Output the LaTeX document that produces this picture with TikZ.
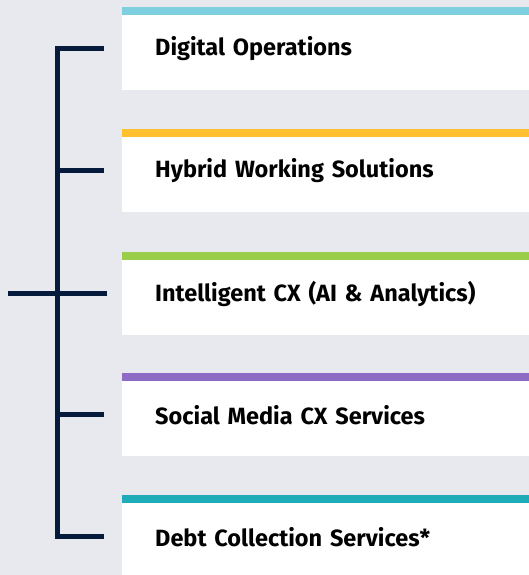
\documentclass[tikz,border=0pt]{standalone}
\usepackage{fontspec}
\setmainfont{Fira Sans}
\usetikzlibrary{positioning}
\definecolor{bgcol}{HTML}{E8E9EE}
\definecolor{navy}{HTML}{061A3C}
\definecolor{barA}{HTML}{7ECFE0}
\definecolor{barB}{HTML}{FFC130}
\definecolor{barC}{HTML}{9ACD4A}
\definecolor{barD}{HTML}{8E6CC5}
\definecolor{barE}{HTML}{1EADB8}

\begin{document}
\begin{tikzpicture}[x=1pt,y=-1pt,
    item/.style={fill=white,anchor=north west,minimum height=83pt,
        text width=407pt,inner xsep=0pt,align=left,font=\fontsize{23.5}{28}\selectfont\bfseries},
    branch/.style={draw=navy,line width=5pt}]
    \useasboundingbox (0,0) rectangle (529,575);
    \clip (0,0) rectangle (529,575);
    \fill[bgcol] (0,0) rectangle (529,575);

    \foreach \i/\y/\c/\t in {1/7/barA/Digital Operations,
                             2/129/barB/Hybrid Working Solutions,
                             3/252/barC/Intelligent CX (AI \& Analytics),
                             4/373/barD/Social Media CX Services,
                             5/495/barE/Debt Collection Services*} {
        \node[item] (box\i) at (122,\y) {\hspace*{33pt}\t};
        \fill[\c] (box\i.north west) rectangle ([yshift=-8pt]box\i.north east);
        \coordinate (end\i) at ([xshift=-18pt]box\i.west);
    }

    \coordinate (root) at (8,0);
    \draw[branch] (end1) -- ++(-47,0) coordinate (top) |- (end5);
    \draw[branch] (end2) -- (end2 -| top);
    \draw[branch] (end4) -- (end4 -| top);
    \draw[branch] ([xshift=3pt]end3) -- (end3 -| root);
\end{tikzpicture}
\end{document}
